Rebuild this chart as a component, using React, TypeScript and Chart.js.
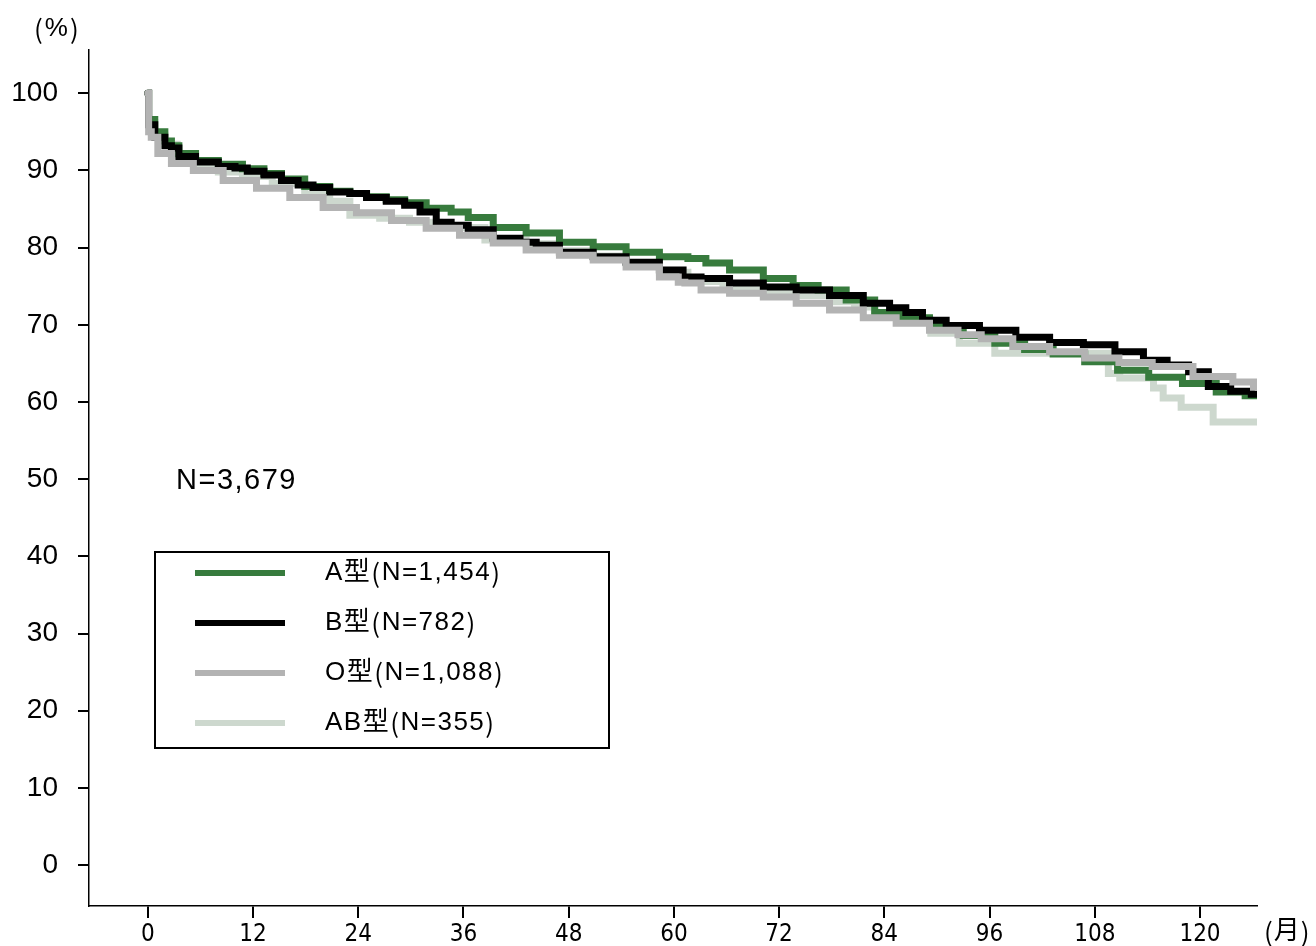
import React, { useEffect, useRef } from "react";
import { Chart, registerables } from "chart.js";

Chart.register(...registerables);

const seriesNames = ["A型(N=1,454)", "B型(N=782)", "O型(N=1,088)", "AB型(N=355)"];
const seriesColors = ["#377b3d", "#000000", "#b3b3b3", "#cdd8ce"];

const aMonths = [0, 0.2, 1.4, 2.5, 2.9, 4.2, 6.7, 9.4, 12.2, 14.3, 16.2, 19.6, 21.9, 24.2, 25.7, 28.7, 29.9, 33.6, 35.6, 37.5, 41.3, 45.0, 48.9, 52.7, 56.4, 60.3, 62.9, 64.4, 68.3, 72.1, 75.1, 77.8, 81.5, 84.3, 87.2, 91.1, 94.9, 98.3, 101.7, 104.8, 108.9, 112.3, 116.0, 120.0, 123.7, 126.6];
const aValues = [100, 96.6, 95.0, 93.8, 93.2, 92.2, 91.3, 90.8, 90.2, 89.6, 88.9, 87.9, 87.3, 87.0, 86.6, 86.2, 85.8, 85.1, 84.6, 83.9, 82.6, 81.9, 80.7, 80.1, 79.4, 78.8, 78.6, 78.0, 77.1, 76.0, 75.1, 74.5, 73.2, 71.6, 70.9, 69.9, 68.6, 67.6, 66.8, 66.2, 65.2, 64.1, 63.2, 62.4, 61.3, 60.8];

const bMonths = [0, 0.2, 1.4, 2.5, 2.9, 4.2, 6.7, 9.4, 10.5, 12.2, 14.3, 16.2, 18.1, 19.6, 21.9, 24.2, 25.7, 28.7, 29.9, 32.2, 33.6, 35.6, 37.5, 41.3, 43.6, 45.0, 48.9, 52.7, 56.4, 60.3, 61.8, 64.4, 68.3, 72.1, 75.8, 79.7, 83.5, 85.7, 87.2, 89.5, 92.6, 97.1, 100.9, 104.8, 108.6, 112.0, 115.1, 117.4, 120.0, 121.9, 125.1, 126.6];
const bValues = [100, 95.9, 94.3, 93.2, 92.9, 91.8, 91.1, 90.5, 90.3, 89.9, 89.4, 88.7, 88.1, 87.8, 87.2, 87.0, 86.5, 86.0, 85.5, 84.6, 83.3, 82.9, 82.3, 81.2, 80.7, 80.3, 79.4, 78.8, 78.1, 77.1, 76.2, 76.0, 75.4, 74.9, 74.5, 73.8, 72.8, 72.2, 71.6, 70.6, 69.9, 69.3, 68.4, 67.7, 67.4, 66.5, 65.4, 64.8, 63.9, 62.0, 61.4, 61.0];

const oMonths = [0, 0.2, 0.6, 1.7, 3.7, 6.7, 10.5, 14.3, 18.1, 21.9, 25.7, 29.9, 33.6, 37.5, 41.3, 45.0, 48.9, 52.7, 56.4, 60.3, 60.7, 61.8, 64.4, 68.3, 72.1, 75.8, 79.7, 83.5, 87.2, 91.1, 93.7, 96.4, 100.9, 104.8, 108.9, 112.6, 116.5, 121.9, 125.6, 126.6];
const oValues = [100, 95.0, 94.3, 92.2, 90.9, 90.0, 88.7, 87.7, 86.5, 85.2, 84.5, 83.5, 82.5, 81.6, 80.6, 79.7, 79.0, 78.4, 77.5, 76.2, 75.5, 75.4, 74.5, 74.1, 73.6, 72.8, 71.9, 70.9, 70.2, 69.3, 68.7, 68.2, 67.2, 66.5, 65.7, 65.1, 64.6, 63.3, 62.6, 61.9];

const abMonths = [0, 0.2, 1.4, 2.5, 4.2, 6.7, 9.4, 12.2, 16.2, 19.6, 21.9, 24.2, 28.7, 31.0, 35.6, 41.3, 45.0, 48.9, 52.7, 56.4, 60.3, 62.9, 68.3, 72.1, 75.8, 79.7, 81.5, 84.3, 87.2, 91.4, 93.7, 96.4, 96.8, 109.4, 109.7, 112.0, 114.3, 115.1, 116.5, 117.7, 118.0, 121.1, 121.9, 126.6];
const abValues = [100, 96.2, 94.6, 93.4, 92.0, 90.6, 89.8, 89.2, 88.3, 86.9, 86.0, 84.2, 83.8, 83.3, 82.6, 81.0, 80.5, 79.6, 78.9, 78.0, 76.8, 75.6, 74.9, 74.4, 73.8, 73.0, 72.3, 71.4, 70.6, 68.9, 67.6, 67.6, 66.3, 66.3, 63.7, 63.1, 63.1, 61.8, 60.5, 60.5, 59.3, 59.3, 57.4, 57.4];

const xTicks = [0, 12, 24, 36, 48, 60, 72, 84, 96, 108, 120];
const yTicks = [0, 10, 20, 30, 40, 50, 60, 70, 80, 90, 100];

const totalLabel = "N=3,679";
const yUnit = "(%)";
const xUnit = "(月)";

const LABEL_FONT = '"Liberation Sans", Arial, "Noto Sans CJK JP", sans-serif';
const CJK_FONT = '"Noto Sans CJK JP", sans-serif';
const MIX_FONT = '"Liberation Sans", "Noto Sans CJK JP", sans-serif';

function zip(xs: number[], ys: number[]) {
  return xs.map((x, i) => ({ x, y: ys[i] }));
}

// draw text where ASCII parens use the CJK font, rest uses mixed font
function drawText(ctx: any, text: string, x: number, y: number, size: number, spacing: number) {
  let cx = x;
  for (const ch of Array.from(text)) {
    const isParen = ch === "(" || ch === ")";
    ctx.font = `${size}px ${isParen ? CJK_FONT : MIX_FONT}`;
    ctx.fillText(ch, cx, y);
    cx += ctx.measureText(ch).width + spacing;
  }
}

export default function App() {
  const ref = useRef<HTMLCanvasElement | null>(null);

  useEffect(() => {
    if (!ref.current) return;
    const seriesData = [
      zip(aMonths, aValues),
      zip(bMonths, bValues),
      zip(oMonths, oValues),
      zip(abMonths, abValues),
    ];
    const drawOrder = [2, 1, 0, 3];

    const overlay = {
      id: "overlay",
      afterDraw(chart: any) {
        const ctx = chart.ctx;
        ctx.save();
        ctx.fillStyle = "#000";
        ctx.textAlign = "left";
        ctx.textBaseline = "middle";
        drawText(ctx, yUnit, 34, 29, 26, 2);
        drawText(ctx, xUnit, 1264, 932, 26, 1);
        drawText(ctx, totalLabel, 176, 481, 29, 1.5);
        const bx = 155, by = 552, bw = 454, bh = 196;
        ctx.lineWidth = 2;
        ctx.strokeStyle = "#000";
        ctx.strokeRect(bx, by, bw, bh);
        const rows = [573, 623, 673, 723];
        chart.data.datasets.forEach((ds: any, i: number) => {
          const y = rows[i];
          ctx.strokeStyle = ds.borderColor;
          ctx.lineWidth = 6;
          ctx.beginPath();
          ctx.moveTo(195, y);
          ctx.lineTo(285, y);
          ctx.stroke();
          ctx.fillStyle = "#000";
          drawText(ctx, ds.label, 325, y, 26, 1.5);
        });
        ctx.restore();
      },
    };

    const chart = new Chart(ref.current, {
      type: "line",
      data: {
        datasets: seriesNames.map((name, i) => ({
          label: name,
          data: seriesData[i],
          borderColor: seriesColors[i],
          backgroundColor: seriesColors[i],
          borderWidth: 7,
          pointRadius: 0,
          stepped: "middle" as const,
          fill: false,
          order: drawOrder[i],
          borderJoinStyle: "miter" as const,
          borderCapStyle: "round" as const,
        })),
      },
      options: {
        animation: false,
        responsive: false,
        maintainAspectRatio: false,
        layout: { padding: { left: 0, top: 50, right: 59, bottom: 0 } },
        plugins: { legend: { display: false }, tooltip: { enabled: false } },
        scales: {
          x: {
            type: "linear",
            min: -6.7,
            max: 126.5,
            afterBuildTicks: (scale: any) => {
              scale.ticks = xTicks.map((v) => ({ value: v }));
            },
            afterFit: (scale: any) => {
              scale.height = 40;
            },
            grid: {
              display: true,
              drawOnChartArea: false,
              drawTicks: true,
              tickLength: 12,
              color: "#000",
              lineWidth: 2,
            },
            border: { display: true, color: "#000", width: 1.5 },
            ticks: {
              color: "#000",
              padding: 2,
              maxRotation: 0,
              autoSkip: false,
              font: { family: '"Liberation Sans Narrow", "DejaVu Sans Condensed", sans-serif', size: 24 },
              callback: (v: any) => String(v),
            },
          },
          y: {
            type: "linear",
            min: -5.3,
            max: 105.6,
            afterBuildTicks: (scale: any) => {
              scale.ticks = yTicks.map((v) => ({ value: v }));
            },
            afterFit: (scale: any) => {
              scale.width = 89;
            },
            grid: {
              display: true,
              drawOnChartArea: false,
              drawTicks: true,
              tickLength: 11,
              color: "#000",
              lineWidth: 2,
            },
            border: { display: true, color: "#000", width: 1.5 },
            ticks: {
              color: "#000",
              padding: 20,
              font: { family: LABEL_FONT, size: 28 },
              callback: (v: any) => String(v),
            },
          },
        },
      },
      plugins: [overlay],
    });
    return () => chart.destroy();
  }, []);

  return (
    <div style={{ position: "absolute", left: 0, top: 0, width: 1316, height: 946, background: "#fff" }}>
      <canvas ref={ref} width={1316} height={946} style={{ width: 1316, height: 946, display: "block" }} />
    </div>
  );
}
